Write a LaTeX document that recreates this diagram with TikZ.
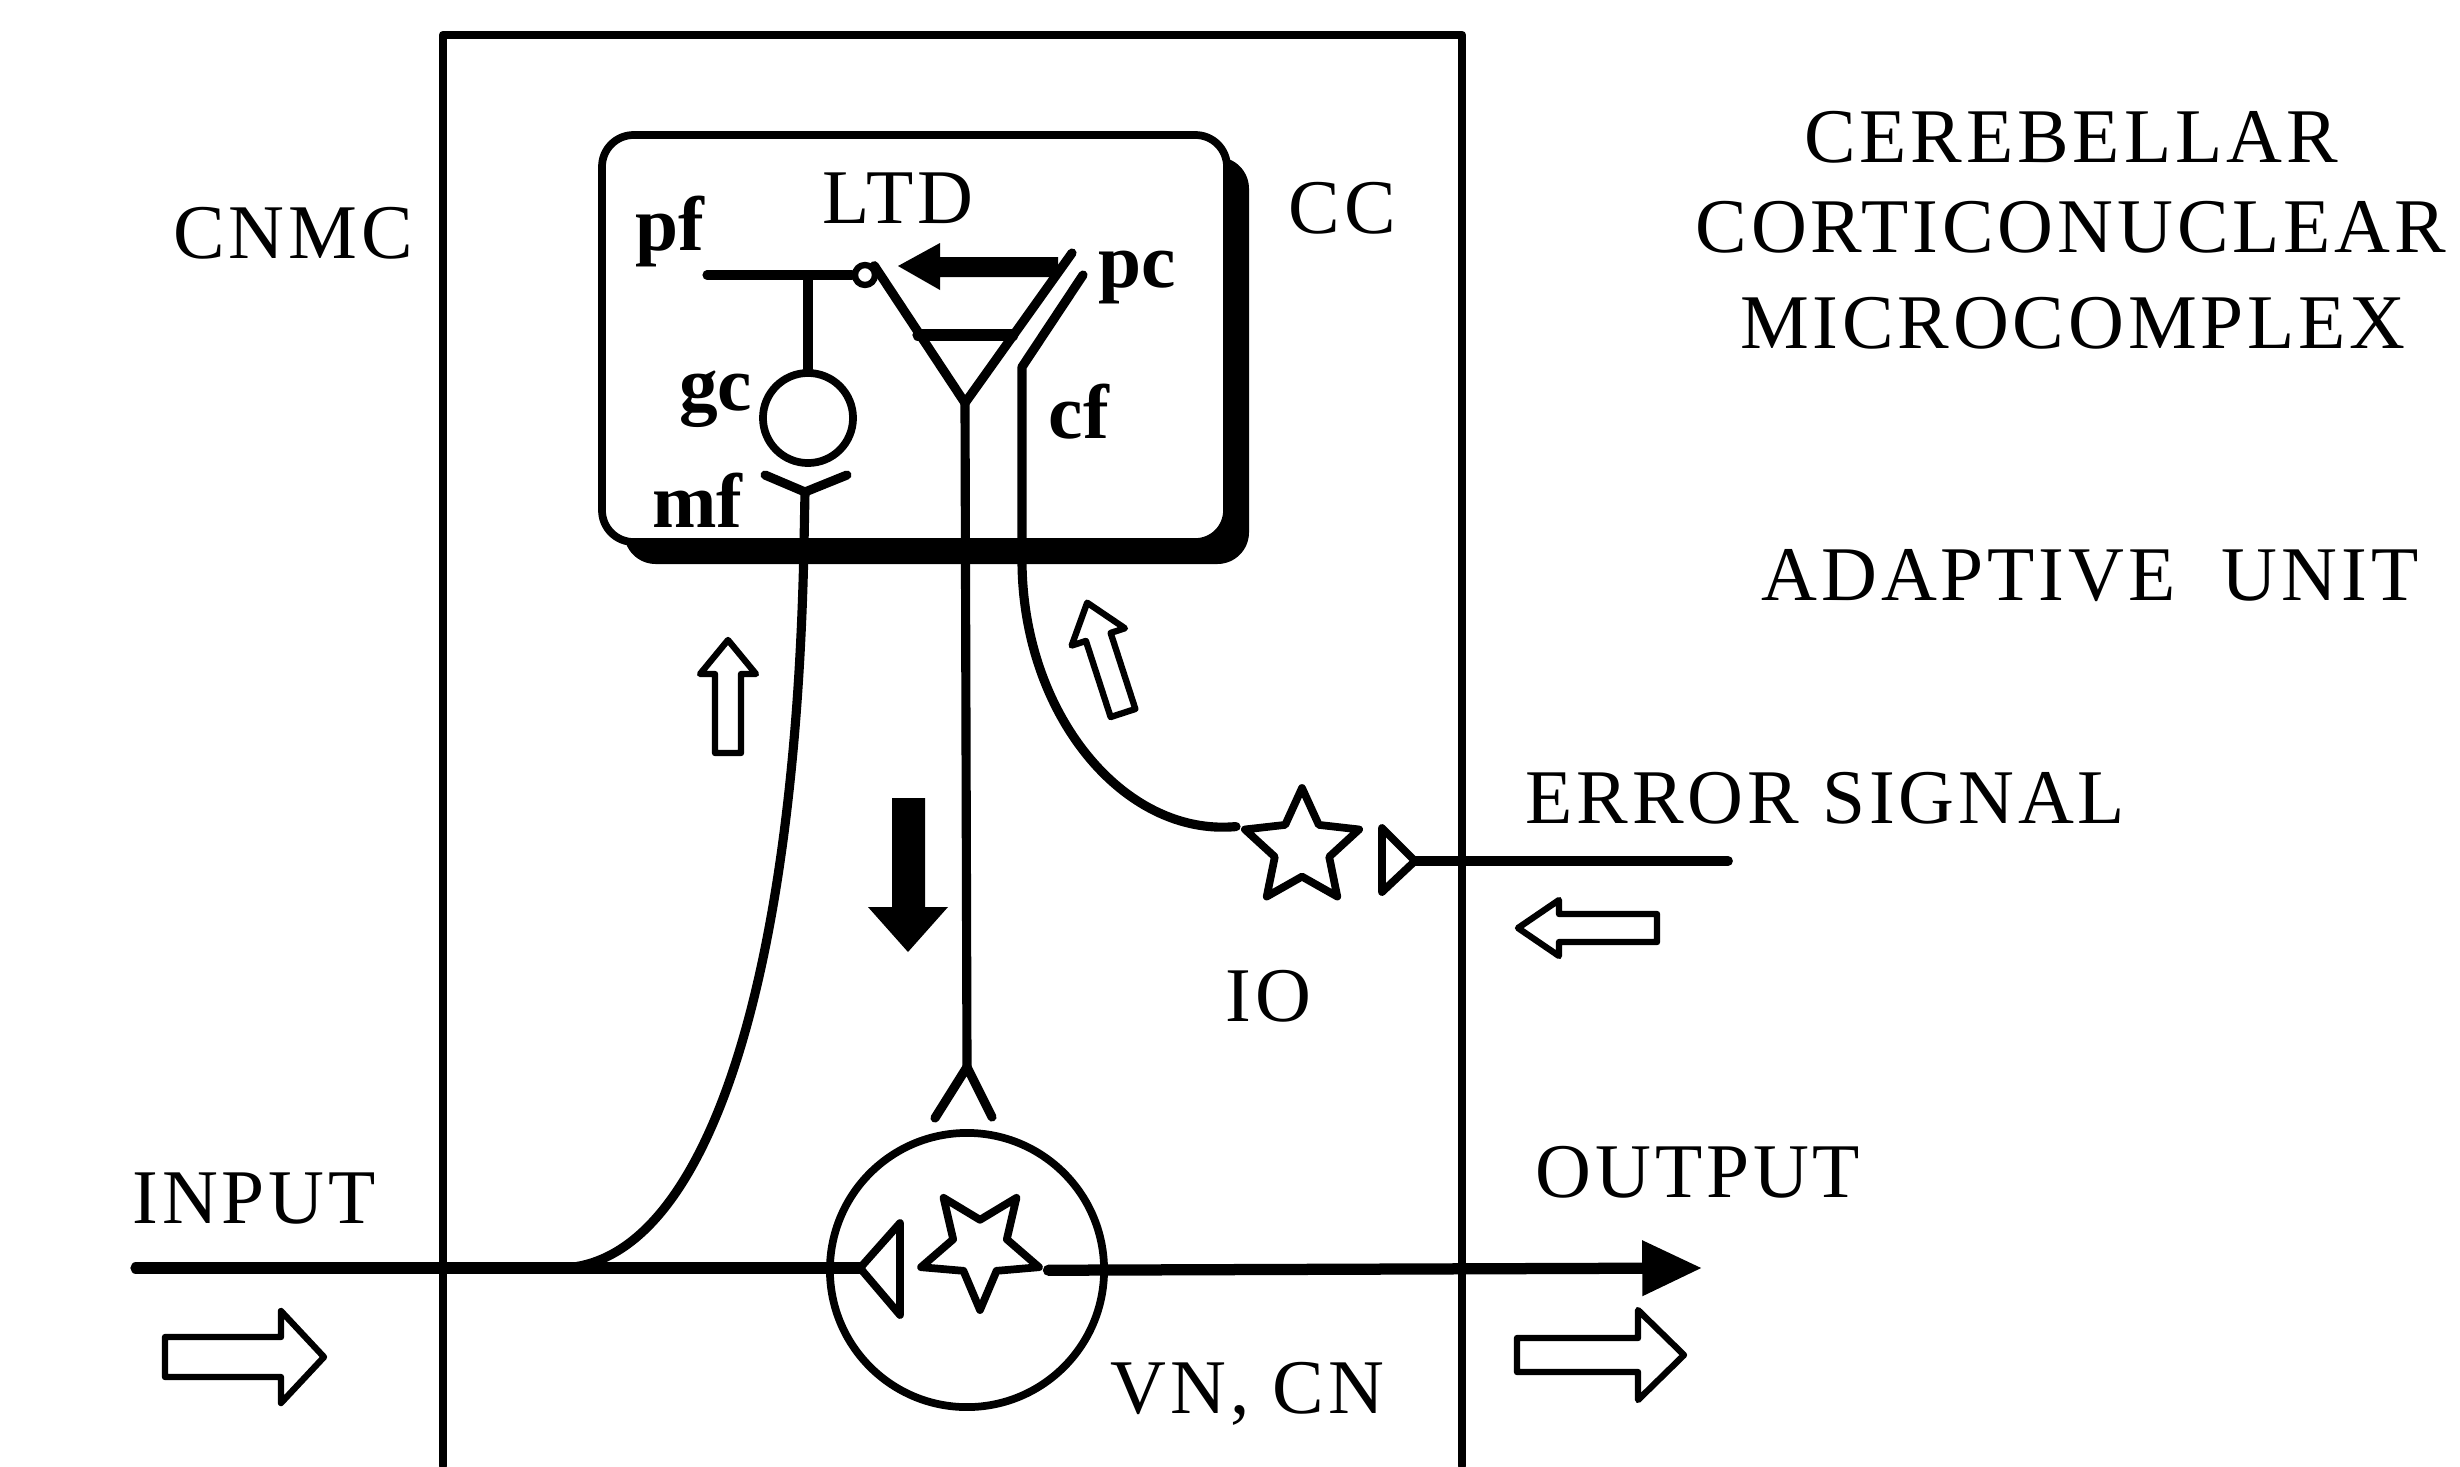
\documentclass[tikz,border=0pt]{standalone}
\usepackage{fontspec}
\setmainfont{Liberation Serif}
\newfontfamily\capsfont{Liberation Serif}[LetterSpace=5]
\usepackage{tikz}
\usetikzlibrary{arrows.meta,shapes.geometric,positioning}

\tikzset{
  fibre/.style={line width=2.6pt},
  caps/.style={font=\capsfont\fontsize{22}{26}\selectfont, inner sep=0pt},
  small/.style={font=\bfseries\fontsize{22}{26}\selectfont, inner sep=0pt},
  cell/.style={draw, circle, line width=2.2pt, inner sep=0pt},
  starcell/.style={draw, star, star points=5, star point ratio=2.1, line width=2.2pt, inner sep=0pt},
  pics/hollow/.style n args={4}{code={
    \draw[line width=1.8pt, line join=round]
      (0,-#2) -- ({#1-#4},-#2) -- ({#1-#4},-#3) -- (#1,0) -- ({#1-#4},#3) -- ({#1-#4},#2) -- (0,#2) -- cycle;}},
}

\begin{document}
\begin{tikzpicture}[x=0.01cm, y=-0.01cm, line cap=round, line join=round]
  \useasboundingbox (0,0) rectangle (2460,1466);
  % Frame of the microcomplex
  \draw[line width=2.4pt] (443,1466) -- (443,35) -- (1462,35) -- (1462,1466);
  % Cortex box and its shadow
  \fill[rounded corners=9pt] (624,157) rectangle (1249,564);
  \draw[line width=2.2pt, fill=white, rounded corners=9pt] (602,135) rectangle (1227,542);

  % Granule cell and parallel fibre
  \node[cell, minimum size=0.9cm] (gc) at (808,418) {};
  \node[cell, minimum size=0.2cm, line width=1.8pt] (syn) at (865,275) {};
  \coordinate (pfstart) at (707,275);
  \coordinate (pfbranch) at (808,275);
  \draw[fibre] (pfstart) -- (syn.west);
  \draw[fibre] (pfbranch) -- (gc.north);

  % Mossy fibre
  \coordinate (mfleft) at (765,475);
  \coordinate (mfright) at (847,475);
  \coordinate (mfjoin) at (805,492);
  \coordinate (mfin) at (560,1268);
  \draw[fibre] (mfleft) -- (mfjoin) -- (mfright);
  \draw[fibre] (mfjoin) -- (804,545) .. controls (795,1000) and (700,1266) .. (mfin);

  % Purkinje cell
  \coordinate (pcapex) at (965,403);
  \coordinate (pctop) at (1072,253);
  \draw[fibre] (syn.north east) -- (pcapex) -- (pctop);
  \draw[line width=3.2pt] (918,335) -- (1013,335);

  % Climbing fibre from the olive
  \node[starcell, minimum size=1.2cm] (io) at (1302,848) {};
  \coordinate (cftop) at (1083,275);
  \coordinate (cfbend) at (1022,367);
  \draw[fibre] (cftop) -- (cfbend) -- (1022,560)
    .. controls (1022,713) and (1123,837) .. (io.outer point 2);

  % Nuclear cell
  \node[cell, minimum size=2.74cm] (vn) at (967,1270) {};
  \node[starcell, minimum size=1.24cm, star point ratio=2.2, shape border rotate=180] (vnstar) at (980,1248) {};
  \coordinate (term) at (967,1067);
  \draw[fibre] (pcapex) -- (term);
  \draw[fibre] (935,1118) -- (term) -- (992,1117);

  % Input and output lines
  \coordinate (inbeg) at (136,1268);
  \coordinate (intip) at (860,1268);
  \coordinate (outend) at (1702,1268);
  \draw[line width=3.2pt] (inbeg) -- (intip);
  \draw[line width=2.2pt] (900,1223) -- (intip) -- (900,1315) -- cycle;
  \draw[line width=3.2pt, -{Triangle[length=17pt, width=15pt]}] (vnstar.outer point 2) -- (outend);

  % Error signal
  \coordinate (errend) at (1728,861);
  \coordinate (errtip) at (1415,861);
  \draw[line width=2.8pt] (errend) -- (errtip);
  \draw[line width=2.2pt] (1382,828) -- (errtip) -- (1382,892) -- cycle;

  % Solid arrows
  \fill (1058,257) -- (940,257) -- (940,243) -- (898,266) -- (940,290) -- (940,277) -- (1058,277) -- cycle;
  \fill (892,798) -- (925,798) -- (925,907) -- (948,907) -- (908,952) -- (868,907) -- (892,907) -- cycle;

  % Hollow arrows
  \pic[rotate=90] at (728,753) {hollow={113}{13}{28}{34}};
  \pic[rotate=108] at (1123,713) {hollow={116}{13}{28}{36}};
  \pic[rotate=180] at (1657,928) {hollow={139}{14}{28}{41}};
  \pic at (165,1357) {hollow={159}{20}{46}{43}};
  \pic at (1517,1355) {hollow={167}{17}{45}{46}};

  % Labels
  \node[caps, anchor=base] (cnmc) at (293,258) {CNMC};
  \node[caps, anchor=base] (cereb) at (2071,162) {CEREBELLAR};
  \node[caps, anchor=base] (cortico) at (2071,252) {CORTICONUCLEAR};
  \node[caps, anchor=base] (micro) at (2073,348) {MICROCOMPLEX};
  \node[caps, anchor=base] (adapt) at (2090,600) {ADAPTIVE\hspace{0.6em}UNIT};
  \node[caps, anchor=base west] (err) at (1525,823) {ERROR SIGNAL};
  \node[caps, anchor=base west] (out) at (1535,1197) {OUTPUT};
  \node[caps, anchor=base west] (inp) at (132,1223) {INPUT};
  \node[caps, anchor=base west] (iolbl) at (1225,1021) {IO};
  \node[caps, anchor=base west] (vnlbl) at (1110,1413) {VN, CN};
  \node[caps, anchor=base west] (cc) at (1288,233) {CC};
  \node[caps, anchor=base west] (ltd) at (822,223) {LTD};
  \node[small, anchor=base west] (pf) at (635,250) {pf};
  \node[small, anchor=base west] (pc) at (1098,287) {pc};
  \node[small, anchor=base east] (gclbl) at (753,410) {gc};
  \node[small, anchor=base west] (cf) at (1048,438) {cf};
  \node[small, anchor=base east] (mf) at (743,527) {mf};
\end{tikzpicture}
\end{document}
